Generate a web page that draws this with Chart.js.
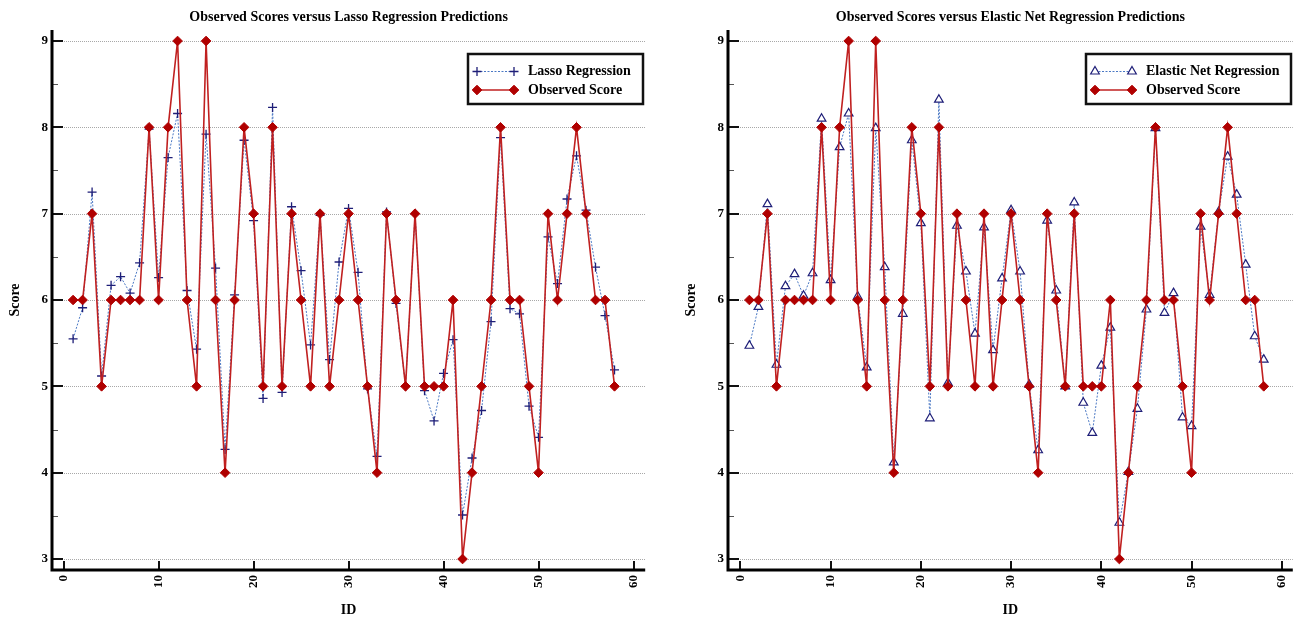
<!DOCTYPE html>
<html><head><meta charset="utf-8">
<script src="https://cdn.jsdelivr.net/npm/chart.js@4.4.1/dist/chart.umd.min.js"></script>
<style>
html,body{margin:0;padding:0;background:#fff;overflow:hidden}
#wrap{position:relative;width:1296px;height:619px;background:#fff;overflow:hidden}
canvas{position:absolute;top:0}
</style></head><body>
<div id="wrap">
<canvas id="c1" width="651" height="619" style="left:0"></canvas>
<canvas id="c2" width="651" height="619" style="left:648px"></canvas>
</div>
<script>
// ---------------- data ----------------
const ids = [1,2,3,4,5,6,7,8,9,10,11,12,13,14,15,16,17,18,19,20,21,22,23,24,25,26,27,28,29,30,
  31,32,33,34,35,36,37,38,39,40,41,42,43,44,45,46,47,48,49,50,51,52,53,54,55,56,57,58];
const observedScore = [6,6,7,5,6,6,6,6,8,6,8,9,6,5,9,6,4,6,8,7,5,8,5,7,6,5,7,5,6,7,
  6,5,4,7,6,5,7,5,5,5,6,3,4,5,6,8,6,6,5,4,7,6,7,8,7,6,6,5];
const lassoPredicted = [5.55,5.91,7.25,5.12,6.17,6.27,6.08,6.43,7.98,6.26,7.65,8.16,6.11,5.43,7.92,6.37,4.27,6.06,7.85,6.92,
  4.86,8.23,4.93,7.08,6.34,5.48,6.98,5.31,6.44,7.06,6.32,4.97,4.19,7.02,5.96,5.0,7.0,4.95,4.60,5.15,
  5.54,3.51,4.17,4.72,5.75,7.88,5.90,5.84,4.77,4.41,6.73,6.19,7.17,7.67,7.04,6.38,5.82,5.19];
const elasticNetPredicted = [5.47,5.92,7.11,5.25,6.16,6.30,6.05,6.31,8.10,6.23,7.77,8.16,6.04,5.22,7.99,6.38,4.12,5.84,7.85,6.89,
  4.63,8.32,5.04,6.86,6.33,5.61,6.84,5.42,6.25,7.04,6.33,5.02,4.26,6.92,6.11,5.0,7.13,4.81,4.46,5.24,
  5.68,3.42,4.01,4.74,5.89,7.99,5.85,6.08,4.64,4.54,6.85,6.06,7.02,7.66,7.22,6.41,5.58,5.31];
const xTickValues = [0,10,20,30,40,50,60];
const yTickValues = [3,4,5,6,7,8,9];
const yMinorTickValues = [3.5,4.5,5.5,6.5,7.5,8.5];
const chartTitles = ['Observed Scores versus Lasso Regression Predictions',
                     'Observed Scores versus Elastic Net Regression Predictions'];
const seriesLabels = ['Lasso Regression','Elastic Net Regression','Observed Score'];
const xAxisTitle = 'ID';
const yAxisTitle = 'Score';

// ---------------- styling ----------------
const SERIF = '"Liberation Serif", "Times New Roman", serif';
const NAVY = '#1e1e78';
const BLUE = '#4a78c4';
const RED_LINE = '#c02020';
const RED_PT = '#b00000';

function pts(values){ return ids.map((x,i)=>({x:x, y:values[i]})); }

function drawMarker(ctx, style, x, y, r, fill, stroke, bw){
  ctx.save();
  ctx.setLineDash([]);
  ctx.lineWidth = bw; ctx.strokeStyle = stroke; ctx.fillStyle = fill;
  ctx.beginPath();
  if (style === 'cross'){
    ctx.moveTo(x-r,y); ctx.lineTo(x+r,y); ctx.moveTo(x,y-r); ctx.lineTo(x,y+r);
    ctx.stroke();
  } else if (style === 'rectRot'){
    ctx.moveTo(x,y-r); ctx.lineTo(x+r,y); ctx.lineTo(x,y+r); ctx.lineTo(x-r,y); ctx.closePath();
    ctx.fill(); ctx.stroke();
  } else if (style === 'triangle'){
    const a = r*Math.sqrt(3)/2;
    ctx.moveTo(x, y-r); ctx.lineTo(x+a, y+r/2); ctx.lineTo(x-a, y+r/2); ctx.closePath();
    ctx.fill(); ctx.stroke();
  }
  ctx.restore();
}

const framePlugin = {
  id: 'frame',
  beforeDatasetsDraw(chart){
    const ctx = chart.ctx, ca = chart.chartArea, ys = chart.scales.y;
    ctx.save();
    ctx.strokeStyle = '#a8a8a8'; ctx.lineWidth = 1; ctx.setLineDash([1,1]);
    yTickValues.forEach(v=>{
      const py = Math.round(ys.getPixelForValue(v)) + 0.5;
      ctx.beginPath(); ctx.moveTo(ca.left, py); ctx.lineTo(ca.right, py); ctx.stroke();
    });
    ctx.restore();
  },
  afterDraw(chart){
    const ctx = chart.ctx, ca = chart.chartArea, ys = chart.scales.y, xs = chart.scales.x;
    ctx.save();
    ctx.setLineDash([]);
    // minor y ticks
    ctx.strokeStyle = '#555'; ctx.lineWidth = 1;
    yMinorTickValues.forEach(v=>{
      const py = Math.round(ys.getPixelForValue(v)) + 0.5;
      ctx.beginPath(); ctx.moveTo(ca.left, py); ctx.lineTo(ca.left+6, py); ctx.stroke();
    });
    // major y ticks
    ctx.strokeStyle = '#111'; ctx.lineWidth = 2;
    yTickValues.forEach(v=>{
      const py = Math.round(ys.getPixelForValue(v));
      ctx.beginPath(); ctx.moveTo(ca.left, py); ctx.lineTo(ca.left+11, py); ctx.stroke();
    });
    // x ticks
    xTickValues.forEach(v=>{
      const px = Math.round(xs.getPixelForValue(v));
      ctx.beginPath(); ctx.moveTo(px, ca.bottom); ctx.lineTo(px, ca.bottom-9); ctx.stroke();
    });
    // axes lines
    ctx.strokeStyle = '#000'; ctx.lineWidth = 3;
    ctx.beginPath();
    ctx.moveTo(ca.left, ca.top); ctx.lineTo(ca.left, ca.bottom); ctx.lineTo(ca.right, ca.bottom);
    ctx.stroke();

    // legend
    const ds = chart.data.datasets;
    ctx.font = 'bold 14px ' + SERIF;
    const tw = Math.max.apply(null, ds.map(d=>ctx.measureText(d.label).width));
    const padL = 9, sample = 37, gap = 14, padR = 12;
    const w = Math.round(padL + sample + gap + tw + padR), h = 50;
    const x1 = Math.round(ca.right - 2 - w), y1 = Math.round(ca.top + 24);
    ctx.fillStyle = '#fff'; ctx.fillRect(x1, y1, w, h);
    ctx.lineWidth = 2.5; ctx.strokeStyle = '#111'; ctx.strokeRect(x1, y1, w, h);
    ds.forEach((d,i)=>{
      const cy = y1 + 17.5 + i*18.5;
      const sx0 = x1 + padL, sx1 = x1 + padL + sample;
      ctx.save();
      ctx.strokeStyle = d.borderColor; ctx.lineWidth = d.borderWidth;
      ctx.setLineDash(d.borderDash || []);
      ctx.beginPath(); ctx.moveTo(sx0, cy); ctx.lineTo(sx1, cy); ctx.stroke();
      ctx.restore();
      [sx0, sx1].forEach(px=>drawMarker(ctx, d.pointStyle, px, cy, d.pointRadius,
        d.pointBackgroundColor, d.pointBorderColor, d.pointBorderWidth));
      ctx.fillStyle = '#000'; ctx.textBaseline = 'middle'; ctx.textAlign = 'left';
      ctx.fillText(d.label, sx1 + gap, cy);
    });
    ctx.restore();
  }
};

function makeChart(id, cfg){
  const predictionStyle = cfg.predStyle;
  return new Chart(document.getElementById(id), {
    type: 'line',
    data: {
      datasets: [
        Object.assign({
          label: cfg.predLabel,
          data: pts(cfg.predValues),
          borderColor: BLUE, borderWidth: 1, borderDash: [2,1.5],
          pointBorderColor: NAVY, pointBorderWidth: 1.3,
          pointRadius: 4.5, pointHoverRadius: 4.5,
          tension: 0, fill: false, order: 1
        }, predictionStyle),
        {
          label: seriesLabels[2],
          data: pts(observedScore),
          borderColor: RED_LINE, borderWidth: 1.6,
          pointStyle: 'rectRot', pointRadius: 4.8, pointHoverRadius: 4.8,
          pointBackgroundColor: RED_PT, pointBorderColor: RED_PT, pointBorderWidth: 1,
          tension: 0, fill: false, order: 0
        }
      ]
    },
    options: {
      responsive: false, animation: false, events: [],
      devicePixelRatio: 1,
      layout: { padding: { left: 0, right: 0, top: 0, bottom: 0 } },
      clip: false,
      plugins: {
        legend: { display: false },
        tooltip: { enabled: false },
        title: {
          display: true, text: cfg.title, color: '#000', fullSize: false,
          font: { family: SERIF, size: 14, weight: 'bold' },
          padding: { top: 8.6, bottom: 4.6 }
        }
      },
      scales: {
        x: {
          type: 'linear', position: 'bottom', min: cfg.xMin, max: cfg.xMax,
          afterBuildTicks: s => { s.ticks = xTickValues.map(v=>({value:v})); },
          afterFit: s => { s.height = 49; s.paddingLeft = 0; s.paddingRight = 0; },
          grid: { display: false, drawTicks: false },
          border: { display: false },
          ticks: { autoSkip: false, minRotation: 90, maxRotation: 90, padding: 5, color: '#000',
                   font: { family: SERIF, size: 13, weight: 'bold' } },
          title: { display: true, text: xAxisTitle, color: '#000',
                   font: { family: SERIF, size: 14, weight: 'bold' },
                   padding: { top: 0, bottom: 0 } }
        },
        y: {
          type: 'linear', position: 'left', min: 2.873, max: 9.127,
          afterBuildTicks: s => { s.ticks = yTickValues.map(v=>({value:v})); },
          afterFit: s => { s.width = cfg.yWidth; s.paddingTop = 0; s.paddingBottom = 0; },
          grid: { display: false, drawTicks: false },
          border: { display: false },
          ticks: { padding: 4, color: '#000', font: { family: SERIF, size: 13, weight: 'bold' } },
          title: { display: true, text: yAxisTitle, color: '#000',
                   font: { family: SERIF, size: 14, weight: 'bold' },
                   padding: { top: cfg.yTitlePad, bottom: 0 } }
        }
      }
    },
    plugins: [framePlugin]
  });
}

makeChart('c1', {
  title: chartTitles[0], predLabel: seriesLabels[0], predValues: lassoPredicted,
  predStyle: { pointStyle: 'cross', pointBackgroundColor: NAVY },
  xMin: -1.22, xMax: 61.23, yWidth: 52, yTitlePad: 7.1
});
makeChart('c2', {
  title: chartTitles[1], predLabel: seriesLabels[1], predValues: elasticNetPredicted,
  predStyle: { pointStyle: 'triangle', pointRadius: 5, pointHoverRadius: 5, pointBackgroundColor: '#fff', pointBorderWidth: 1.2 },
  xMin: -1.37, xMax: 61.22, yWidth: 80, yTitlePad: 35.3
});
</script>
</body></html>
